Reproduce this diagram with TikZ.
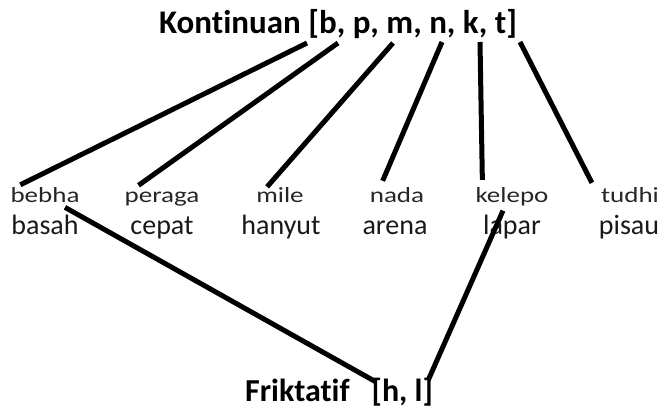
\documentclass[tikz,border=0pt]{standalone}
\usepackage{fontspec}
\setmainfont[Ligatures=NoCommon]{Carlito}
\usepackage{graphicx}
\usetikzlibrary{positioning}

\newcommand{\pipih}[1]{\scalebox{1}[0.8]{#1}}

\tikzset{
  judul/.style = {font=\fontsize{33}{33}\selectfont\bfseries, inner sep=0pt, anchor=base},
  atas/.style  = {font=\fontsize{27}{27}\selectfont, text=black!85, inner sep=0pt, anchor=base},
  bawah/.style = {font=\fontsize{28}{28}\selectfont, text=black!90, inner sep=0pt, anchor=base},
  garis/.style = {line width=5pt}
}

\begin{document}
\begin{tikzpicture}[x=1pt, y=-1pt]
	\useasboundingbox (0,0) rectangle (662,411);

	\node[judul] (kont) at (338,34) {Kontinuan [b, p, m, n, k, t]};
	\node[judul, font=\fontsize{32}{32}\selectfont\bfseries] (frik) at (339,402) {Friktatif\hspace{22pt}[h, l]};

	% baris atas
	\node[atas] (bebha)  at (45,203)  {\pipih{bebha}};
	\node[atas] (peraga) at (162,203) {\pipih{peraga}};
	\node[atas] (mile)   at (280,203) {\pipih{mile}};
	\node[atas] (nada)   at (397,203) {\pipih{nada}};
	\node[atas] (kelepo) at (512,203) {\pipih{kelepo}};
	\node[atas] (tudhi)  at (630,203) {\pipih{tudhi}};

	% baris bawah
	\node[bawah] (basah)  at (45,235)  {basah};
	\node[bawah] (cepat)  at (162,235) {cepat};
	\node[bawah] (hanyut) at (281,235) {hanyut};
	\node[bawah] (arena)  at (395,235) {arena};
	\node[bawah] (lapar)  at (512,235) {lapar};
	\node[bawah] (pisau)  at (629,235) {pisau};

	% ujung garis di bawah judul
	\coordinate (kb) at (307,43);
	\coordinate (kp) at (338,43);
	\coordinate (km) at (393,43);
	\coordinate (kn) at (442,42);
	\coordinate (kk) at (480,42);
	\coordinate (kt) at (520,42);

	\begin{scope}[garis]
		\draw (kb) -- ([xshift=10pt, yshift=3pt]bebha.north west);
		\draw (kp) -- ([xshift=14pt, yshift=7pt]peraga.north west);
		\draw (km) -- ([xshift=11pt, yshift=1pt]mile.north west);
		\draw (kn) -- ([xshift=13pt, yshift=7pt]nada.north west);
		\draw (kk) -- ([xshift=7pt, yshift=8pt]kelepo.north west);
		\draw (kt) -- ([xshift=-9pt, yshift=5pt]tudhi.north west);

		\draw ([xshift=20pt, yshift=-4pt]bebha.south) -- ([xshift=-58pt, yshift=-3pt]frik.north east);
		\draw ([xshift=-9pt, yshift=-4pt]kelepo.south) -- ([xshift=-5pt, yshift=-2pt]frik.north east);
	\end{scope}
\end{tikzpicture}
\end{document}
